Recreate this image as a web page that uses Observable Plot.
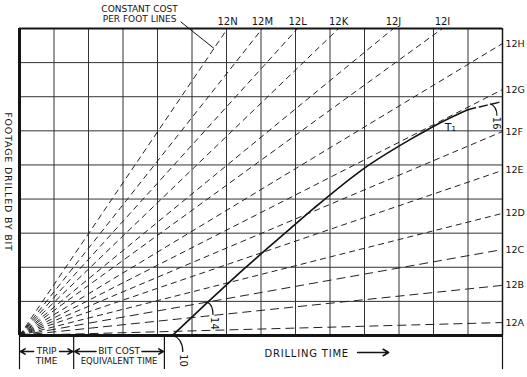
<!DOCTYPE html>
<html><head><meta charset="utf-8">
<script src="https://cdn.jsdelivr.net/npm/d3@7"></script>
<script src="https://cdn.jsdelivr.net/npm/@observablehq/plot@0.6"></script>
<style>body{margin:0;background:#fff;} svg{display:block}</style>
</head><body><div id="chart"></div>
<script>
// Constant cost per foot lines (all radiate from the origin)
const costLineLabels = ["12A","12B","12C","12D","12E","12F","12G","12H","12I","12J","12K","12L","12M","12N"];
const costLineEndTime = [14,14,14,14,14,14,14,14,12.26,10.84,9.25,8.06,7.04,6.03];
const costLineEndFootage = [0.38,1.47,2.52,3.58,4.84,5.98,7.21,8.56,9,9,9,9,9,9];
// Drilling curve
const drillTime = [4.43,5.45,6.46,7.57,8.52,10.03,11.33,12.2,12.99];
const footage = [0,0.97,1.91,2.89,3.72,4.93,5.75,6.24,6.62];
const projectedTime = [12.99,14];
const projectedFootage = [6.62,6.86];
// Depth labels on the curve
const depthLabels = ["10","14","16"];
const depthTime = [4.43,5.45,13.65];
const depthFootage = [0,0.97,6.78];
// Time segments along the axis
const tripTime = 1.57;
const bitCostTime = 2.63;
const timeGrid = [1,2,3,4,5,6,7,8,9,10,11,12,13];
const footageGrid = [1,2,3,4,5,6,7,8];

const costLines = costLineLabels.map((l,i)=>({label:l, x2:costLineEndTime[i], y2:costLineEndFootage[i]}));
const curve = drillTime.map((t,i)=>({t, f:footage[i]}));
const proj = projectedTime.map((t,i)=>({t, f:projectedFootage[i]}));
const depths = depthLabels.map((l,i)=>({l, t:depthTime[i], f:depthFootage[i]}));
const n = costLines.find(d=>d.label==="12N");
const leaderEnd = {x: n.x2*0.935, y: n.y2*0.935};
const tripEnd = tripTime, bitEnd = tripTime + bitCostTime;

const arcOffsets = [[11,17],[6,13],[7,12]];
function depthArcs(index, scales) {
  const g = d3.create("svg:g").attr("fill","none").attr("stroke","#111").attr("stroke-width",1.2);
  depths.forEach((d,i)=>{
    const x0 = scales.x(d.t), y0 = scales.y(d.f);
    const [ex,ey] = arcOffsets[i];
    g.append("path").attr("d",`M${x0},${y0} Q${x0+ex},${y0+ey*0.2} ${x0+ex},${y0+ey}`);
  });
  return g.node();
}

const ink = "#141414";
const chart = Plot.plot({
  width:527, height:377,
  marginLeft:19, marginRight:25, marginTop:28, marginBottom:42,
  x:{domain:[0,14], axis:null},
  y:{domain:[0,9], axis:null},
  style:{fontFamily:"'DejaVu Sans', sans-serif", fontSize:"9px", background:"#fff", color:ink},
  marks:[
    Plot.ruleX(timeGrid,{stroke:"#333", strokeWidth:1}),
    Plot.ruleY(footageGrid,{stroke:"#333", strokeWidth:1}),
    Plot.link(costLines.slice(0,3),{x1:0,y1:0,x2:"x2",y2:"y2", stroke:"#222", strokeWidth:1, strokeDasharray:"9,5"}),
    Plot.link(costLines.slice(3),{x1:0,y1:0,x2:"x2",y2:"y2", stroke:"#222", strokeWidth:1, strokeDasharray:"6,4"}),
    Plot.line(curve,{x:"t", y:"f", curve:"monotone-x", stroke:ink, strokeWidth:1.7}),
    Plot.line(proj,{x:"t", y:"f", stroke:ink, strokeWidth:1.5, strokeDasharray:"8,4"}),
    Plot.ruleX([0],{stroke:ink, strokeWidth:3}),
    Plot.ruleY([0],{stroke:ink, strokeWidth:3}),
    Plot.ruleY([9],{stroke:ink, strokeWidth:1.8}),
    Plot.ruleX([14],{stroke:ink, strokeWidth:1.5}),
    // labels of constant cost lines
    Plot.text(costLines.filter(d=>d.y2===9),{x:"x2", y:"y2", text:"label", dy:-7, fontSize:10, fill:ink}),
    Plot.text(costLines.filter(d=>d.x2===14),{x:"x2", y:"y2", text:"label", dx:3, textAnchor:"start", fontSize:9.5, fill:ink}),
    Plot.text(["CONSTANT COST"],{x:3.48, y:9, dy:-19, text:d=>d, fontSize:9, fill:ink}),
    Plot.text(["PER FOOT LINES"],{x:3.48, y:9, dy:-9, text:d=>d, fontSize:9, fill:ink}),
    Plot.link([0],{x1:4.67, y1:9.2, x2:leaderEnd.x, y2:leaderEnd.y, stroke:ink, strokeWidth:1}),
    // y title
    Plot.text(["FOOTAGE DRILLED BY BIT"],{x:0, y:4.5, dx:-11, rotate:90, text:d=>d, fontSize:9.5, fill:ink}),
    // curve annotations
    depthArcs,
    Plot.text([depths[0]],{x:"t", y:"f", text:"l", dx:11, dy:25, rotate:90, fontSize:10, fill:ink}),
    Plot.text([depths[1]],{x:"t", y:"f", text:"l", dx:7, dy:21, rotate:90, fontSize:10, fill:ink}),
    Plot.text([depths[2]],{x:"t", y:"f", text:"l", dx:6, dy:19, rotate:90, fontSize:10, fill:ink}),
    Plot.text(["T₁"],{x:12.49, y:6.1, text:d=>d, fontSize:11, fill:ink}),
    // time axis annotations
    Plot.ruleX([0, tripEnd, bitEnd, 14],{y1:0, y2:-1, stroke:ink, strokeWidth:1.2}),
    Plot.text(["TRIP"],{x:tripEnd/2, y:0, dy:16, text:d=>d, fontSize:9, fill:ink}),
    Plot.text(["TIME"],{x:tripEnd/2, y:0, dy:26, text:d=>d, fontSize:9, fill:ink}),
    Plot.arrow([0],{x1:tripEnd/2, x2:0, y1:0, y2:0, dy:16, insetStart:13, insetEnd:1, headLength:5, strokeWidth:1.6, stroke:ink}),
    Plot.arrow([0],{x1:tripEnd/2, x2:tripEnd, y1:0, y2:0, dy:16, insetStart:13, insetEnd:1, headLength:5, strokeWidth:1.6, stroke:ink}),
    Plot.text(["BIT COST"],{x:(tripEnd+bitEnd)/2, y:0, dy:16, text:d=>d, fontSize:9, fill:ink}),
    Plot.text(["EQUIVALENT TIME"],{x:(tripEnd+bitEnd)/2, y:0, dy:26, text:d=>d, fontSize:8.5, fill:ink}),
    Plot.arrow([0],{x1:(tripEnd+bitEnd)/2, x2:tripEnd, y1:0, y2:0, dy:16, insetStart:23, insetEnd:1, headLength:5, strokeWidth:1.6, stroke:ink}),
    Plot.arrow([0],{x1:(tripEnd+bitEnd)/2, x2:bitEnd, y1:0, y2:0, dy:16, insetStart:23, insetEnd:1, headLength:5, strokeWidth:1.6, stroke:ink}),
    Plot.text(["DRILLING TIME"],{x:7.1, y:0, dy:18, textAnchor:"start", text:d=>d, fontSize:10, fill:ink}),
    Plot.arrow([0],{x1:9.8, x2:10.7, y1:0, y2:0, dy:17, headLength:6, strokeWidth:1.6, stroke:ink})
  ]
});
d3.select(chart).selectAll("text").filter(function(){
  const t = this.textContent;
  return t === "FOOTAGE DRILLED BY BIT" || t === "DRILLING TIME";
}).attr("letter-spacing", "0.8px");
document.getElementById("chart").append(chart);
</script>
</body></html>
